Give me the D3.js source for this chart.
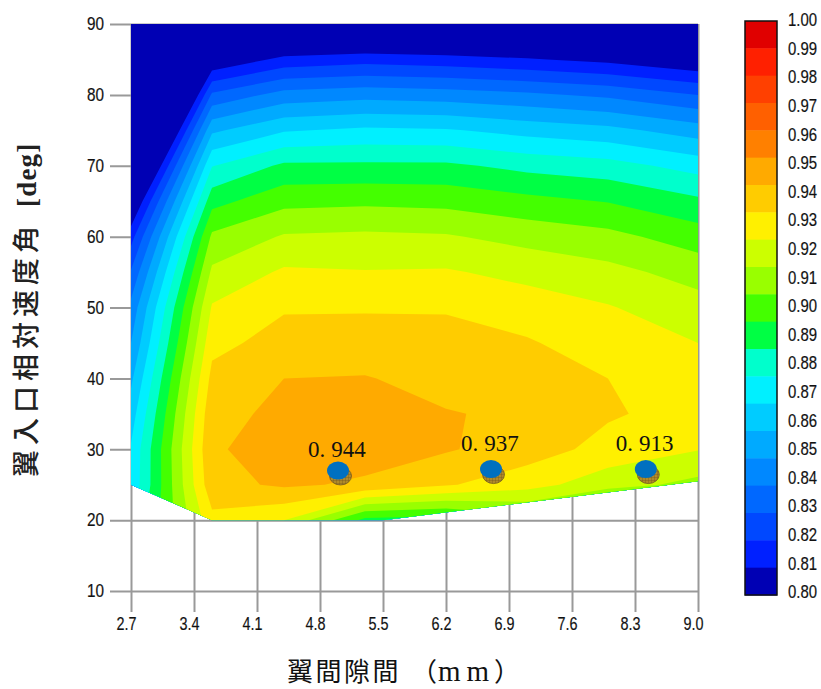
<!DOCTYPE html>
<html>
<head>
<meta charset="utf-8">
<script src="https://cdn.jsdelivr.net/npm/d3@7"></script>
<style>
body { margin: 0; background: #fff; }
svg { display: block; }
.tickText { font-family: "Liberation Sans", sans-serif; font-size: 18px; fill: #111; stroke: #222; stroke-width: 0.2px; }
</style>
</head>
<body>
<div id="chart"></div>
<script>
// values
var gapGrid = [2.7, 3.6, 4.4, 5.3, 6.2, 7.1, 8.0, 9.0];
var angleGrid = [90, 85, 80, 75, 70, 65, 60, 55, 50, 45, 40, 35, 30, 25, 20];
var effRows = [
  [0.630, 0.750, 0.770, 0.770, 0.770, 0.770, 0.760, 0.765],
  [0.660, 0.790, 0.803, 0.806, 0.804, 0.801, 0.797, 0.790],
  [0.693, 0.822, 0.834, 0.8365, 0.835, 0.832, 0.828, 0.820],
  [0.728, 0.848, 0.859, 0.862, 0.861, 0.8564, 0.853, 0.845],
  [0.759, 0.8695, 0.882, 0.882, 0.882, 0.877, 0.874, 0.866],
  [0.7857, 0.8865, 0.897, 0.898, 0.897, 0.893, 0.8895, 0.882],
  [0.806, 0.902, 0.911, 0.912, 0.911, 0.9066, 0.903, 0.895],
  [0.821, 0.912, 0.9215, 0.9205, 0.921, 0.917, 0.913, 0.906],
  [0.833, 0.921, 0.929, 0.929, 0.929, 0.925, 0.9207, 0.914],
  [0.840, 0.927, 0.934, 0.935, 0.934, 0.931, 0.925, 0.920],
  [0.848, 0.933, 0.940, 0.9405, 0.937, 0.936, 0.930, 0.925],
  [0.855, 0.9373, 0.942, 0.9435, 0.9405, 0.9385, 0.9312, 0.926],
  [0.861, 0.9393, 0.9425, 0.9445, 0.941, 0.935, 0.9265, 0.9205],
  [0.862, 0.937, 0.9415, 0.9385, 0.931, 0.924, 0.914, 0.907],
  [0.870, 0.927, 0.920, 0.887, 0.885, 0.895, 0.880, 0.880]
];
// outline of the area that has data
var hullGap = [2.7, 3.6, 5.5, 9.0, 9.0, 2.7];
var hullAngle = [25, 20, 20, 25.5, 90, 90];

var gapTicks = [2.7, 3.4, 4.1, 4.8, 5.5, 6.2, 6.9, 7.6, 8.3, 9.0];
var angleTicks = [10, 20, 30, 40, 50, 60, 70, 80, 90];

var levels = [0.80, 0.81, 0.82, 0.83, 0.84, 0.85, 0.86, 0.87, 0.88, 0.89, 0.90,
              0.91, 0.92, 0.93, 0.94, 0.95, 0.96, 0.97, 0.98, 0.99];
var bandColors = ["#0000b4", "#0020ff", "#0048ff", "#0068ff", "#0088ff", "#00aaff", "#00ccff",
                  "#00f0ff", "#00ffcc", "#00ff44", "#44ff00", "#99ff00", "#ccff00", "#fff000",
                  "#ffcc00", "#ffaa00", "#ff8000", "#ff6000", "#ff4000", "#ff2000", "#e00000"];
var legendLabels = ["1.00", "0.99", "0.98", "0.97", "0.96", "0.95", "0.94", "0.93", "0.92", "0.91", "0.90",
                    "0.89", "0.88", "0.87", "0.86", "0.85", "0.84", "0.83", "0.82", "0.81", "0.80"];

var pointGap = [5.0, 6.7, 8.42];
var pointAngle = [27.0, 27.2, 27.2];
var pointText = ["0.944", "0.937", "0.913"];

var svg = d3.select("#chart").append("svg").attr("width", 821).attr("height", 689);

var x = d3.scaleLinear().domain([2.7, 9.0]).range([131, 698]);
var y = d3.scaleLinear().domain([10, 90]).range([591, 24]);

// the tick font of the original is tall and narrow
function narrow(sel, k, shift) {
  sel.each(function() {
    var t = d3.select(this);
    t.attr("x", (+t.attr("x") + shift) / k).attr("transform", "scale(" + k + ",1)");
  });
}

// gridlines and ticks
var xAxis = svg.append("g")
  .attr("transform", "translate(0,24)")
  .call(d3.axisBottom(x).tickValues(gapTicks).tickFormat(d3.format(".1f")).tickSize(588).tickPadding(5))
  .call(function(g) { g.select(".domain").remove(); });
var yAxis = svg.append("g")
  .attr("transform", "translate(698,0)")
  .call(d3.axisLeft(y).tickValues(angleTicks).tickSize(588).tickPadding(6))
  .call(function(g) { g.select(".domain").remove(); });
svg.selectAll(".tick line").attr("stroke", "#999").attr("stroke-width", 2);
// x labels sit a little left of their tick
xAxis.selectAll("text").attr("class", "tickText").call(narrow, 0.8, -5);
yAxis.selectAll("text").attr("class", "tickText").call(narrow, 0.85, 0);

// filled contours, d3.contours puts grid value i at i + 0.5
var nx = gapGrid.length, ny = angleGrid.length;
var cx = d3.scaleLinear().domain(gapGrid.map(function(d, i) { return i + 0.5; })).range(gapGrid.map(x)).clamp(true);
var cy = d3.scaleLinear().domain(angleGrid.map(function(d, i) { return i + 0.5; })).range(angleGrid.map(y)).clamp(true);
var contours = d3.contours().size([nx, ny]).smooth(true).thresholds(levels)(d3.merge(effRows));
var path = d3.geoPath(d3.geoTransform({ point: function(px, py) { this.stream.point(cx(px), cy(py)); } }));

svg.append("clipPath").attr("id", "hull").append("polygon")
  .attr("points", hullGap.map(function(d, i) { return x(d) + "," + y(hullAngle[i]); }).join(" "));

var plot = svg.append("g").attr("clip-path", "url(#hull)");
plot.append("rect")
  .attr("x", x(2.7)).attr("y", y(90))
  .attr("width", x(9.0) - x(2.7)).attr("height", y(20) - y(90))
  .attr("fill", bandColors[0]);
plot.selectAll("path")
  .data(contours)
  .enter()
  .append("path")
    .attr("d", path)
    .attr("fill", function(d, i) { return bandColors[i + 1]; });

// hatch for the shadow under the markers
var hatch = svg.append("defs").append("pattern")
  .attr("id", "hatch").attr("width", 3).attr("height", 3).attr("patternUnits", "userSpaceOnUse");
hatch.append("rect").attr("width", 3).attr("height", 3).attr("fill", "#b08a28");
hatch.append("path").attr("d", "M0 0H3M0 0V3").attr("stroke", "#6b5320").attr("stroke-width", 0.7);

var labelLift = [14, 18, 18];
var points = svg.append("g").selectAll("g")
  .data(pointGap)
  .enter()
  .append("g");
points.append("ellipse")
  .attr("cx", function(d) { return x(d) + 2.5; })
  .attr("cy", function(d, i) { return y(pointAngle[i]) + 5.5; })
  .attr("rx", 11).attr("ry", 9)
  .attr("fill", "url(#hatch)").attr("stroke", "#6b5320").attr("stroke-width", 0.7);
points.append("ellipse")
  .attr("cx", function(d) { return x(d); })
  .attr("cy", function(d, i) { return y(pointAngle[i]); })
  .attr("rx", 11).attr("ry", 9)
  .attr("fill", "#0070c0");
var labels = points.append("text")
  .attr("x", function(d) { return x(d) - 30; })
  .attr("y", function(d, i) { return y(pointAngle[i]) - labelLift[i]; })
  .attr("font-family", "Liberation Serif")
  .attr("font-size", 23)
  .attr("fill", "#111");
labels.append("tspan").text(function(d, i) { return pointText[i].slice(0, 2); });
labels.append("tspan").attr("dx", 6).text(function(d, i) { return pointText[i].slice(2); });

// colour legend
var legendBand = d3.scaleBand().domain(legendLabels).range([21, 595]);
var legendText = d3.scalePoint().domain(legendLabels).range([20, 592]);
var legend = svg.append("g");
legend.selectAll("rect")
  .data(legendLabels)
  .enter()
  .append("rect")
    .attr("x", 745).attr("width", 32)
    .attr("y", function(d) { return legendBand(d); })
    .attr("height", legendBand.bandwidth() + 0.5)
    .attr("fill", function(d, i) { return bandColors[20 - i]; });
legend.append("rect")
  .attr("x", 745).attr("y", 21).attr("width", 32).attr("height", 574)
  .attr("fill", "none").attr("stroke", "#111").attr("stroke-width", 1.5);
var legendAxis = svg.append("g")
  .attr("transform", "translate(781,0)")
  .call(d3.axisRight(legendText).tickSize(0).tickPadding(7));
legendAxis.select(".domain").remove();
legendAxis.selectAll("text").attr("class", "tickText").call(narrow, 0.83, 0);

// axis titles
var xTitle = svg.append("text")
  .attr("y", 681)
  .attr("font-family", "Noto Sans CJK JP")
  .attr("font-size", 26)
  .attr("fill", "#111");
xTitle.append("tspan").attr("x", 287).attr("letter-spacing", 2.5).text("翼間隙間");
xTitle.append("tspan").attr("x", 411).text("（");
xTitle.append("tspan").attr("x", 438).attr("font-family", "Liberation Serif").attr("font-size", 29).attr("letter-spacing", 6).text("mm");
xTitle.append("tspan").attr("x", 494).text("）");

var yTitle = svg.append("text")
  .attr("transform", "translate(36,477) rotate(-90)")
  .attr("fill", "#222");
yTitle.append("tspan").attr("x", 0)
  .attr("font-family", "Noto Sans CJK JP")
  .attr("font-size", 27)
  .attr("font-weight", 500)
  .attr("letter-spacing", 5)
  .text("翼入口相対速度角");
yTitle.append("tspan").attr("x", 270)
  .attr("font-family", "Liberation Serif")
  .attr("font-size", 27)
  .attr("font-weight", 700)
  .attr("letter-spacing", 1.2)
  .text("[deg]");
</script>
</body>
</html>
